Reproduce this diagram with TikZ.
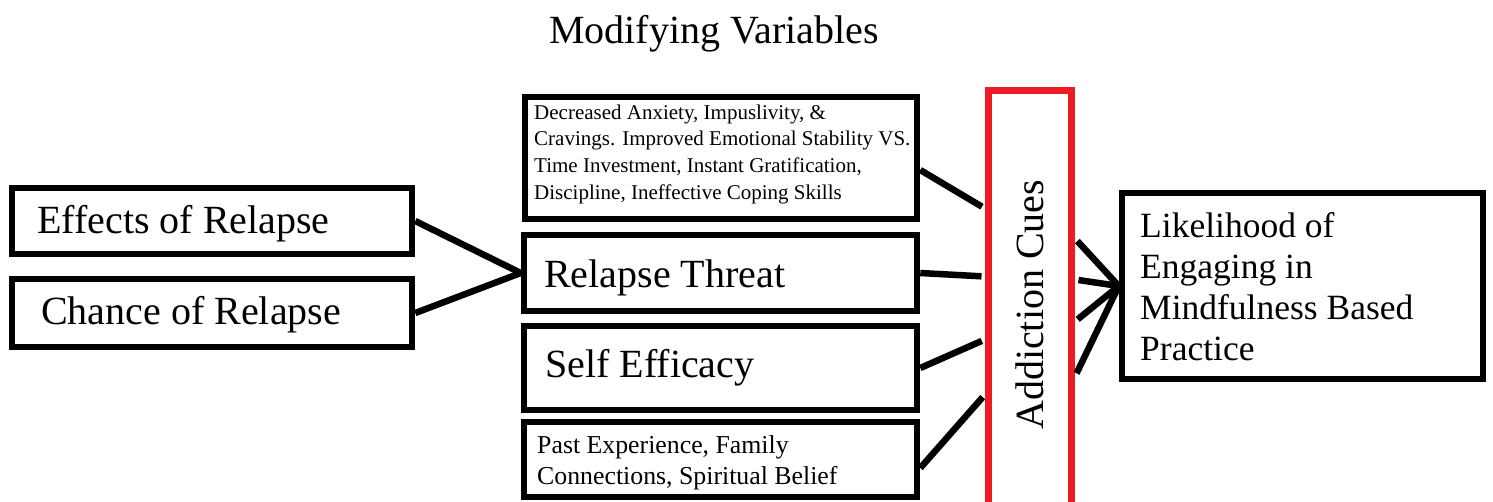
\documentclass[tikz,border=0pt]{standalone}
\usepackage{fontspec}
\setmainfont{Liberation Serif}
\usetikzlibrary{calc}
\definecolor{cuered}{RGB}{237,28,36}
\newcommand{\stack}[1]{\begin{tabular}[t]{@{}l@{}}#1\end{tabular}}
\begin{document}
\begin{tikzpicture}[x=1pt,y=-1pt,
  box/.style={draw=black,line width=6.5pt,inner sep=0pt},
  cuebox/.style={draw=cuered,line width=7pt,inner sep=0pt},
  lbl/.style={inner sep=0pt,anchor=base west,text=black},
  big/.style={font=\fontsize{40}{48}\selectfont},
  link/.style={line width=6.5pt}]
\useasboundingbox (0,0) rectangle (1493,501);
\clip (0,0) rectangle (1493,501);
\fill[white] (0,0) rectangle (1493,501);

% title
\node[lbl,big,anchor=base] (title) at (714,43) {Modifying Variables};

% left-hand boxes
\node[box,minimum width=400pt,minimum height=66pt] (eff) at (212,221) {};
\node[lbl,big] (efft) at (37,233) {Effects of Relapse};
\node[box,minimum width=400pt,minimum height=68pt] (chance) at (212,313) {};
\node[lbl,big] (chancet) at (41,324) {Chance of Relapse};

% modifying variables column
\node[box,minimum width=392pt,minimum height=122pt] (dec) at (721,158) {};
\node[lbl,font=\fontsize{21}{26.7}\selectfont] (dect) at (534,119)
  {\stack{Decreased Anxiety, Impuslivity, \&\\
   Cravings. Improved Emotional Stability VS.\\
   Time Investment, Instant Gratification,\\
   Discipline, Ineffective Coping Skills}};
\node[box,minimum width=393pt,minimum height=76pt] (rt) at (720.5,273) {};
\node[lbl,big] (rtt) at (544,287) {Relapse Threat};
\node[box,minimum width=393pt,minimum height=84pt] (se) at (720.5,368) {};
\node[lbl,big] (set) at (545,377) {Self Efficacy};
\node[box,minimum width=393pt,minimum height=75pt] (past) at (720.5,459.5) {};
\node[lbl,font=\fontsize{25.8}{31}\selectfont] (pastt) at (537,453)
  {\stack{Past Experience, Family\\Connections, Spiritual Belief}};

% addiction cues
\node[cuebox,minimum width=83pt,minimum height=469pt] (ac) at (1030,325) {};
\node[lbl,big,rotate=90] (act) at (1043,430) {Addiction Cues};

% outcome
\node[box,minimum width=361pt,minimum height=186pt] (lik) at (1302.5,286) {};
\node[lbl,font=\fontsize{35.5}{41}\selectfont] (likt) at (1140,237)
  {\stack{Likelihood of\\Engaging in\\Mindfulness Based\\Practice}};

% connectors
\draw[link] (eff.east) -- (rt.west);
\draw[link] (chance.east) -- (rt.west);
\draw[link,shorten >=3.5pt] ($(dec.east)+(0,12)$) -- ($(ac.north west)+(0,121.5)$);
\draw[link,shorten >=3.5pt] (rt.east) -- ($(ac.north west)+(0,189.5)$);
\draw[link,shorten >=3.5pt] (se.east) -- ($(ac.north west)+(0,252.5)$);
\draw[link,shorten >=3.5pt] ($(past.east)+(0,8.5)$) -- ($(ac.north west)+(0,307.5)$);
\draw[link,shorten <=3.5pt] ($(ac.north east)+(0,151.5)$) -- (lik.west);
\draw[link,shorten <=3.5pt] ($(ac.north east)+(0,192.5)$) -- (lik.west);
\draw[link,shorten <=3.5pt] ($(ac.north east)+(0,234.5)$) -- (lik.west);
\draw[link,shorten <=3.5pt] ($(ac.north east)+(0,289.5)$) -- (lik.west);
\end{tikzpicture}
\end{document}
